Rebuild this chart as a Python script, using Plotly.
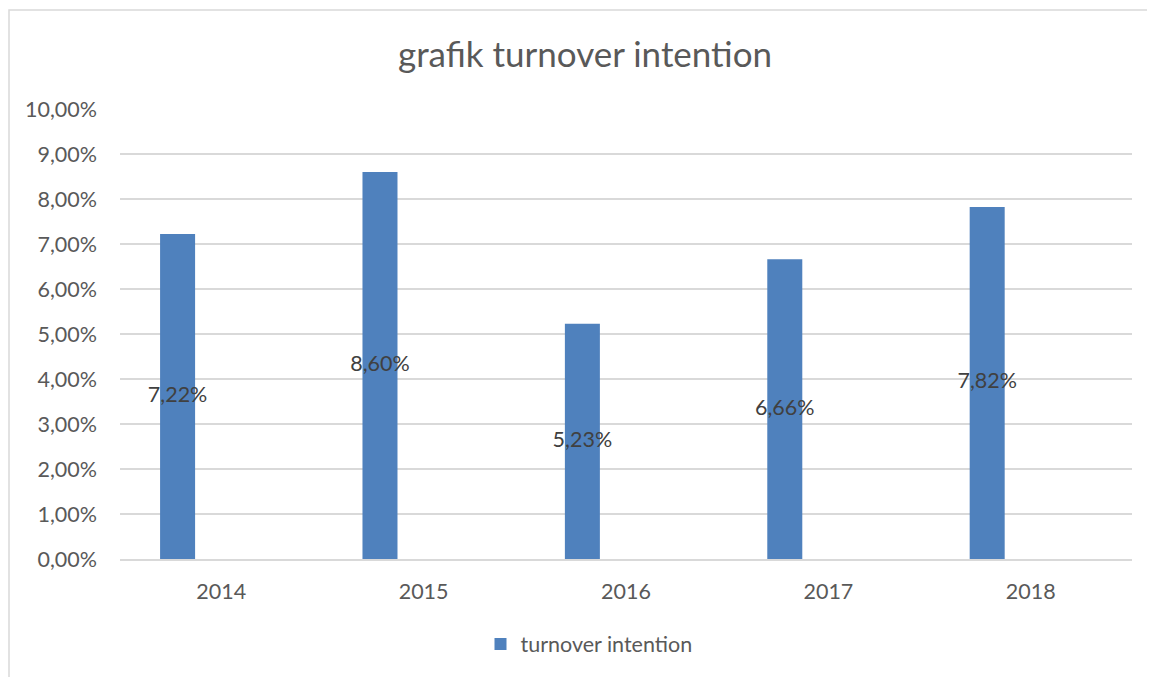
import plotly.graph_objects as go

years = ["2014", "2015", "2016", "2017", "2018"]
values = [0.0722, 0.0860, 0.0523, 0.0666, 0.0782]
labels = ["7,22%", "8,60%", "5,23%", "6,66%", "7,82%"]
series_name = "turnover intention"
title_text = "grafik turnover intention"

# page body has 8px margin; figure sized to fit the window
W, H = 1147, 669
ml, mr, mt, mb = 112, 23, 101, 118
bar_offset = -0.302
bar_width = 0.173
xs = list(range(len(years)))
FONT = "Lato"
FS = 21.5

fig = go.Figure()
fig.add_trace(go.Bar(
    x=xs, y=values, name=series_name,
    offset=bar_offset, width=bar_width,
    marker=dict(color="#4F81BD", line=dict(width=0)),
    hoverinfo="skip",
))
fig.add_trace(go.Scatter(
    x=[x + bar_offset + bar_width / 2 for x in xs],
    y=[v / 2 for v in values],
    mode="text", text=labels,
    textfont=dict(family=FONT, size=FS, color="#404040"),
    showlegend=False, hoverinfo="skip",
))

pw = W - ml - mr
ph = H - mt - mb
fig.add_shape(type="rect", xref="paper", yref="paper",
              x0=(1 - ml) / pw, x1=(W + 10 - ml) / pw,
              y0=-(H + 10 - (H - mb)) / ph, y1=(H - mb - 2) / ph,
              line=dict(color="#D9D9D9", width=1.5), fillcolor="rgba(0,0,0,0)", layer="below")

fig.update_layout(
    width=W, height=H,
    margin=dict(l=ml, r=mr, t=mt, b=mb, autoexpand=False),
    paper_bgcolor="white", plot_bgcolor="white",
    separators=",.",
    font=dict(family=FONT, color="#595959", size=FS),
    title=dict(text=title_text, x=(585 - 8) / W, xref="container", xanchor="center",
               y=1 - 47 / H, yanchor="middle",
               font=dict(family=FONT, size=35, color="#595959")),
    xaxis=dict(range=[-0.5, 4.5], tickvals=xs, ticktext=years, showgrid=False, zeroline=False,
               showline=True, linecolor="#D9D9D9", linewidth=1.5, ticks="", ticklabelstandoff=12,
               tickfont=dict(size=FS, color="#595959"), fixedrange=True),
    yaxis=dict(range=[0, 0.10], dtick=0.01, tickformat=".2%", showgrid=True, gridcolor="#D9D9D9",
               gridwidth=1.5, zeroline=False, showline=False, ticks="", ticklabelstandoff=22,
               tickfont=dict(size=FS, color="#595959"), fixedrange=True),
    showlegend=True,
    legend=dict(orientation="h", xref="paper", x=(589 - 8 - ml) / pw, xanchor="center",
                y=-(636 - (H - mb)) / ph, yanchor="middle",
                font=dict(size=FS, color="#595959"), itemwidth=30),
)

fig.write_html("out.html")
